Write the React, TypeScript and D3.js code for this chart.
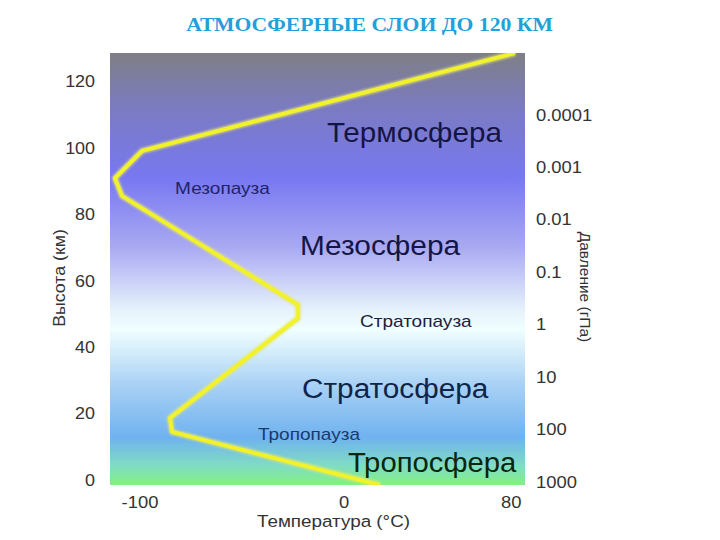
import React from "react";
import * as d3 from "d3";

const W = 720;
const H = 540;

// Temperature profile (°C) vs altitude (km)
const profileTemp = [17.6, -84.3, -85.3, -22.5, -22.5, -108.8, -112.3, -99, 83.8];
const profileAlt = [-1.5, 14.5, 18.7, 48.8, 52.8, 85.6, 91, 99.2, 128.7];

const altTicks = [0, 20, 40, 60, 80, 100, 120];
const tempTicks = [-100, 0, 80];
const pressureTicks = [1000, 100, 10, 1, 0.1, 0.01, 0.001, 0.0001];
const pressureLabels = ["1000", "100", "10", "1", "0.1", "0.01", "0.001", "0.0001"];

const layerNames = ["Термосфера", "Мезопауза", "Мезосфера", "Стратопауза", "Стратосфера", "Тропопауза", "Тропосфера"];
const layerTemp = [-8.4, -82.8, -21.6, 7.8, -20.6, -42.2, 1.9];
const layerAlt = [101.9, 86.2, 67.8, 46.1, 24.7, 12.1, 2.4];
const layerSize = [28, 17, 28, 17, 28, 17, 28];
const layerStretch = [1.06, 1.12, 1.065, 1.12, 1.063, 1.12, 1.045];
const layerColor = ["#151545", "#22226a", "#151545", "#202040", "#0f2448", "#1a3a6a", "#0c260c"];

const gradStops = [
  { o: 0, c: "#7f7f86" },
  { o: 0.12, c: "#7b7bbf" },
  { o: 0.29, c: "#7878f2" },
  { o: 0.45, c: "#a9a9f2" },
  { o: 0.595, c: "#e6f2fb" },
  { o: 0.64, c: "#f0ffff" },
  { o: 0.765, c: "#aad2f5" },
  { o: 0.89, c: "#6fb2ef" },
  { o: 0.955, c: "#80dcc4" },
  { o: 1, c: "#82f082" },
];

const font = "'Liberation Sans', Arial, sans-serif";

function T(props: {
  x: number;
  y: number;
  sx?: number;
  rot?: number;
  anchor?: string;
  size: number;
  fill?: string;
  family?: string;
  weight?: string;
  dy?: string;
  children: React.ReactNode;
}) {
  const { x, y, sx = 1, rot = 0, anchor = "start", size, fill = "#333", family = font, weight, dy } = props;
  return (
    <text
      transform={`translate(${x},${y}) rotate(${rot}) scale(${sx},1)`}
      textAnchor={anchor}
      fontFamily={family}
      fontSize={size}
      fontWeight={weight}
      fill={fill}
      dy={dy}
    >
      {props.children}
    </text>
  );
}

export default function App() {
  const left = 110, right = 525, top = 53, bottom = 485;
  const x = d3.scaleLinear().domain([-114.7, 88.7]).range([left, right]);
  const y = d3.scaleLinear().domain([-1.5, 128.7]).range([bottom, top]);
  const yp = d3.scaleLog().domain([1000, 0.0001]).range([482, 115]);

  const pts: [number, number][] = profileTemp.map((t, i) => [t, profileAlt[i]]);
  const line = d3
    .line<[number, number]>()
    .x((d) => x(d[0]))
    .y((d) => y(d[1]));

  return (
    <svg
      width={W}
      height={H}
      style={{ position: "absolute", left: 0, top: 0, background: "#fff" }}
    >
      <defs>
        <linearGradient id="bg" x1="0" y1="0" x2="0" y2="1">
          {gradStops.map((s, i) => (
            <stop key={i} offset={s.o} stopColor={s.c} />
          ))}
        </linearGradient>
        <clipPath id="clip">
          <rect x={left} y={top} width={right - left} height={bottom - top} />
        </clipPath>
        <filter id="glow" x="-10%" y="-10%" width="120%" height="120%">
          <feGaussianBlur stdDeviation="0.8" />
        </filter>
      </defs>

      <T x={369.5} y={31} anchor="middle" size={19} sx={1.14} weight="bold"
        family="'Liberation Serif', 'Times New Roman', serif" fill="#23a0da">
        АТМОСФЕРНЫЕ СЛОИ ДО 120 КМ
      </T>

      <rect x={left} y={top} width={right - left} height={bottom - top} fill="url(#bg)" />

      <g clipPath="url(#clip)">
        <path d={line(pts) || ""} fill="none" stroke="#e8e86a" strokeWidth={6} strokeLinejoin="round" filter="url(#glow)" opacity={0.8} />
        <path d={line(pts) || ""} fill="none" stroke="#f2f22a" strokeWidth={3.8} strokeLinejoin="round" />
      </g>

      {layerNames.map((n, i) => (
        <T key={n} x={x(layerTemp[i])} y={y(layerAlt[i])} size={layerSize[i]} sx={layerStretch[i]} fill={layerColor[i]}>
          {n}
        </T>
      ))}

      {altTicks.map((t) => (
        <T key={t} x={95} y={y(t)} dy="0.35em" anchor="end" size={16} sx={1.12}>
          {t}
        </T>
      ))}

      {tempTicks.map((t) => (
        <T key={t} x={x(t) + (t === 80 ? 4 : 0)} y={508} anchor="middle" size={16} sx={1.15}>
          {t}
        </T>
      ))}

      {pressureTicks.map((p, i) => (
        <T key={p} x={536} y={yp(p)} dy="0.35em" size={16} sx={1.15}>
          {pressureLabels[i]}
        </T>
      ))}

      <T x={333.5} y={527} anchor="middle" size={17} sx={1.11}>
        Температура (°C)
      </T>
      <T x={65} y={278} rot={-90} anchor="middle" size={16} sx={1.11}>
        Высота (км)
      </T>
      <T x={580} y={287} rot={90} anchor="middle" size={15.5} sx={1.0}>
        Давление (гПа)
      </T>
    </svg>
  );
}
